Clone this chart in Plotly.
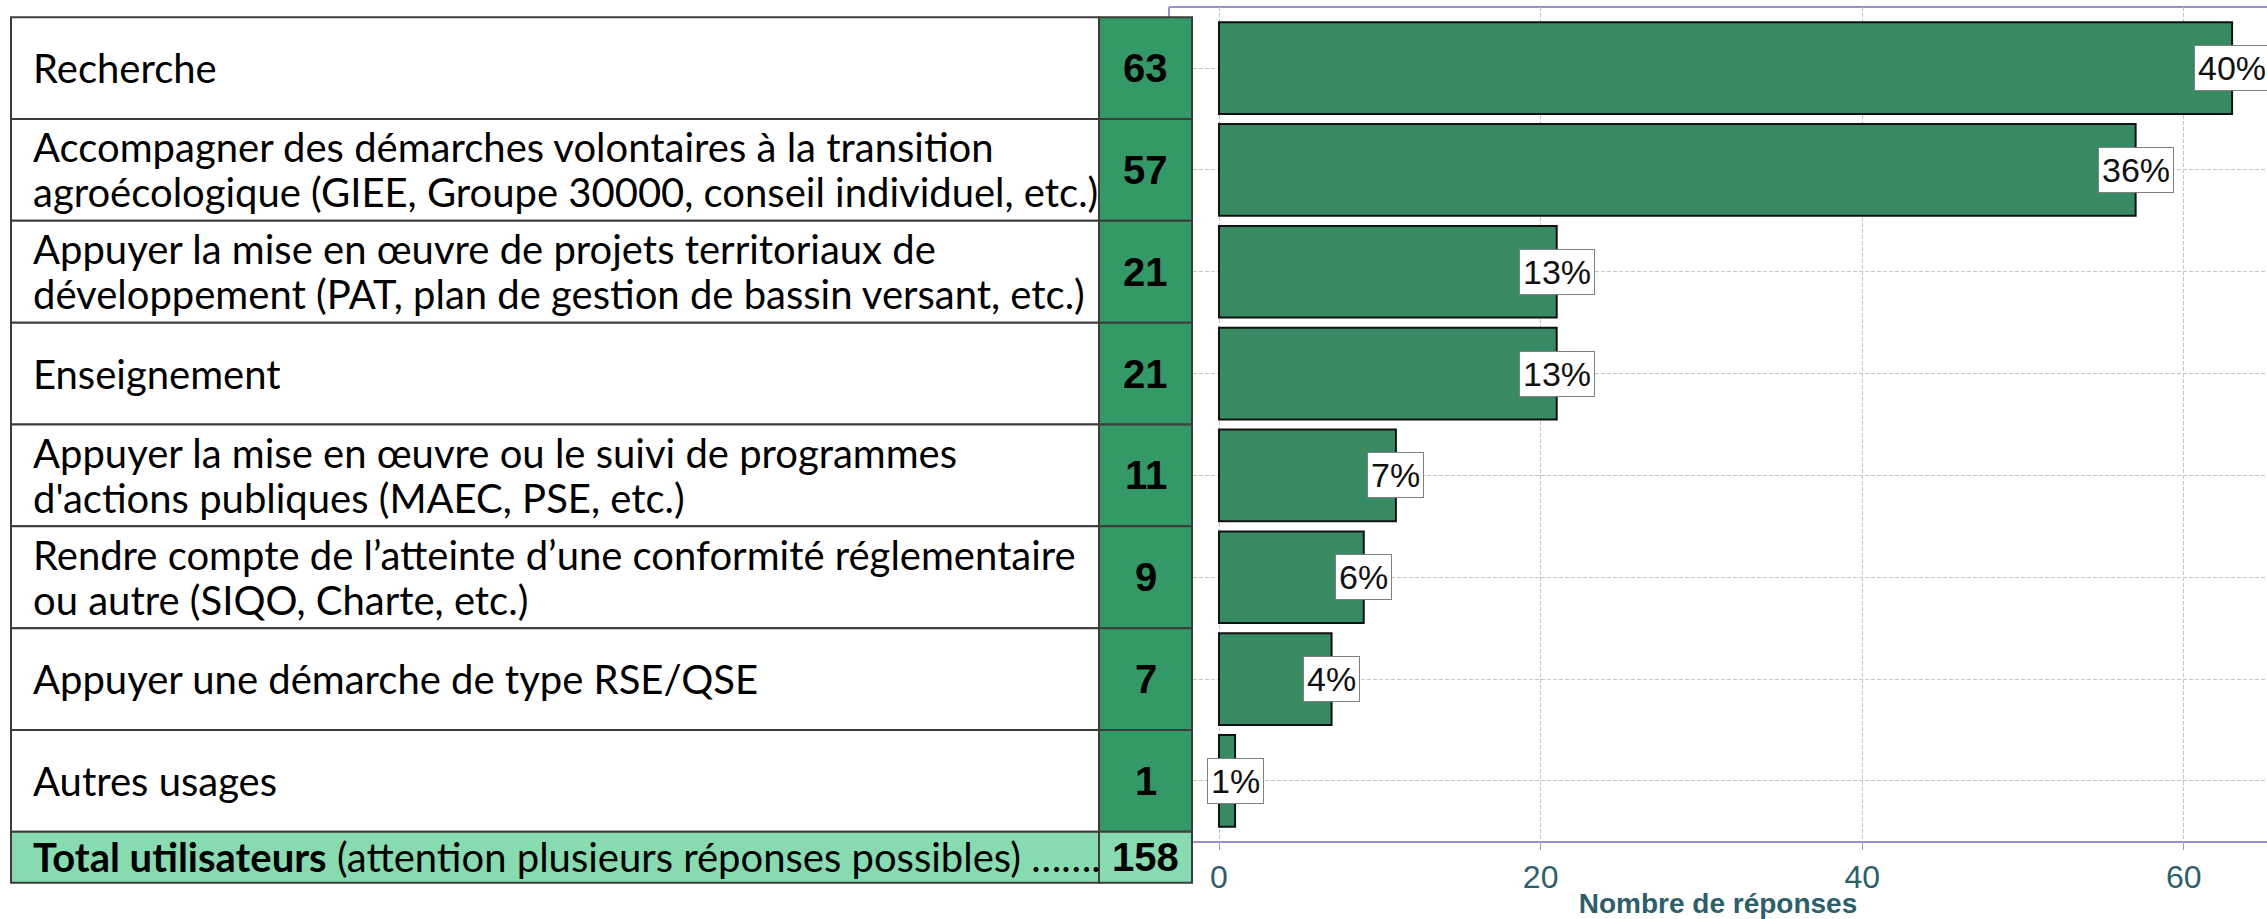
import plotly.graph_objects as go

# ---- data -------------------------------------------------------------
categories = [
    "Recherche",
    "Accompagner des démarches volontaires à la transition<br>agroécologique (GIEE, Groupe 30000, conseil individuel, etc.)",
    "Appuyer la mise en œuvre de projets territoriaux de<br>développement (PAT, plan de gestion de bassin versant, etc.)",
    "Enseignement",
    "Appuyer la mise en œuvre ou le suivi de programmes<br>d'actions publiques (MAEC, PSE, etc.)",
    "Rendre compte de l’atteinte d’une conformité réglementaire<br>ou autre (SIQO, Charte, etc.)",
    "Appuyer une démarche de type RSE/QSE",
    "Autres usages",
]
responses = [63, 57, 21, 21, 11, 9, 7, 1]
total_users = 158
total_label = "<b>Total utilisateurs</b> (attention plusieurs réponses possibles) ……."
x_ticks = [0, 20, 40, 60]
axis_title = "Nombre de réponses"

# ---- styling / layout constants ---------------------------------------
W, H = 2267, 919
PLOT_L, PLOT_T, PLOT_B = 1169, 7, 846
X_RANGE = [-3.11, 65.17]
Y_RANGE = [7.6, -0.6]          # category axis, first category on top

BAR_COLOR = "#378a61"
NUM_FILL = "#339966"
TOTAL_FILL = "#88dab0"
TABLE_LINE = "#3c3c3c"
FRAME = "#9990cc"
AXIS_TEXT = "#2d5f6b"
GRID = "#c4c4c4"
GRID_DASH = "4px,2px"

LABEL_FONT = "Lato"
NUM_FONT = "Liberation Sans"

TABLE_LEFT, NUM_LEFT, NUM_RIGHT = 11, 1099, 1192
LABEL_PAD = 20
LINE_GAP = 45


def px_x(px):
    """Horizontal pixel position -> paper fraction."""
    return (px - PLOT_L) / (W - PLOT_L)


def band_y(v):
    """Category position (in axis units) -> paper fraction."""
    return (Y_RANGE[0] - v) / (Y_RANGE[0] - Y_RANGE[1])


fig = go.Figure()

fig.add_trace(go.Bar(
    x=responses,
    y=categories,
    orientation="h",
    width=0.9,
    marker=dict(color=BAR_COLOR, line=dict(color="#111111", width=2)),
    hoverinfo="skip",
))

shapes = []
annotations = []

# plot frame: top, bottom and left edges only
for x0, y0, x1, y1 in [(0, 1, 1, 1), (0, 0, 1, 0), (0, 0, 0, 1)]:
    shapes.append(dict(type="line", xref="paper", yref="paper", layer="below",
                       x0=x0, y0=y0, x1=x1, y1=y1,
                       line=dict(color=FRAME, width=2)))

# percentage badges at the end of each bar
for cat, v in zip(categories, responses):
    annotations.append(dict(
        x=v, y=cat, xref="x", yref="y",
        text=f"{round(v / total_users * 100)}%",
        showarrow=False, xanchor="center", yanchor="middle",
        font=dict(family="Liberation Sans", size=34, color="#111111"),
        bgcolor="white", bordercolor="#808080", borderwidth=1, borderpad=3,
    ))

# table on the left: one row per category
for i, (cat, v) in enumerate(zip(categories, responses)):
    top, bottom = band_y(i - 0.5), band_y(i + 0.5)
    shapes.append(dict(type="rect", xref="paper", yref="paper", layer="above",
                       x0=px_x(TABLE_LEFT), x1=px_x(NUM_LEFT), y0=bottom, y1=top,
                       fillcolor="white", line=dict(color=TABLE_LINE, width=2)))
    shapes.append(dict(type="rect", xref="paper", yref="paper", layer="above",
                       x0=px_x(NUM_LEFT), x1=px_x(NUM_RIGHT), y0=bottom, y1=top,
                       fillcolor=NUM_FILL, line=dict(color=TABLE_LINE, width=2)))
    lines = cat.split("<br>")
    n = len(lines)
    for k, line in enumerate(lines):
        annotations.append(dict(
            x=px_x(TABLE_LEFT + LABEL_PAD), y=band_y(i), xref="paper", yref="paper",
            yshift=((n - 1) / 2 - k) * LINE_GAP, height=LINE_GAP - 1,
            text=line, showarrow=False, xanchor="left", yanchor="middle",
            font=dict(family=LABEL_FONT, size=40, color="#000000"),
        ))
    annotations.append(dict(
        x=px_x((NUM_LEFT + NUM_RIGHT) / 2), y=band_y(i), xref="paper", yref="paper",
        text=f"<b>{v}</b>", showarrow=False, xanchor="center", yanchor="middle",
        font=dict(family=NUM_FONT, size=40, color="#000000"),
    ))

# total row
t_top, t_bottom = band_y(7.5), band_y(8.0)
shapes.append(dict(type="rect", xref="paper", yref="paper", layer="above",
                   x0=px_x(TABLE_LEFT), x1=px_x(NUM_LEFT), y0=t_bottom, y1=t_top,
                   fillcolor=TOTAL_FILL, line=dict(color=TABLE_LINE, width=2)))
shapes.append(dict(type="rect", xref="paper", yref="paper", layer="above",
                   x0=px_x(NUM_LEFT), x1=px_x(NUM_RIGHT), y0=t_bottom, y1=t_top,
                   fillcolor=TOTAL_FILL, line=dict(color=TABLE_LINE, width=2)))
annotations.append(dict(
    x=px_x(TABLE_LEFT + LABEL_PAD), y=band_y(7.75), xref="paper", yref="paper",
    text=total_label, showarrow=False, xanchor="left", yanchor="middle",
    font=dict(family=LABEL_FONT, size=40, color="#000000"),
))
annotations.append(dict(
    x=px_x((NUM_LEFT + NUM_RIGHT) / 2), y=band_y(7.75), xref="paper", yref="paper",
    text=f"<b>{total_users}</b>", showarrow=False, xanchor="center", yanchor="middle",
    font=dict(family=NUM_FONT, size=40, color="#000000"),
))

fig.update_layout(
    width=W, height=H,
    margin=dict(l=PLOT_L, r=0, t=PLOT_T, b=H - PLOT_B, pad=0),
    paper_bgcolor="white", plot_bgcolor="white",
    showlegend=False,
    shapes=shapes,
    annotations=annotations,
    xaxis=dict(
        range=X_RANGE, tickvals=x_ticks, zeroline=False,
        showgrid=True, gridcolor=GRID, griddash=GRID_DASH, gridwidth=1,
        showline=False,
        ticks="outside", ticklen=7, tickcolor="#a0a0a0", tickwidth=1,
        tickfont=dict(family="Liberation Sans", size=32, color=AXIS_TEXT),
        title=dict(text=f"<b>{axis_title}</b>", standoff=4,
                   font=dict(family="Liberation Sans", size=28, color=AXIS_TEXT)),
    ),
    yaxis=dict(
        type="category", categoryorder="array", categoryarray=categories,
        range=Y_RANGE, showticklabels=False, ticks="",
        showgrid=True, gridcolor=GRID, griddash=GRID_DASH, gridwidth=1,
        showline=False, zeroline=False,
    ),
)

fig.write_html("out.html")
